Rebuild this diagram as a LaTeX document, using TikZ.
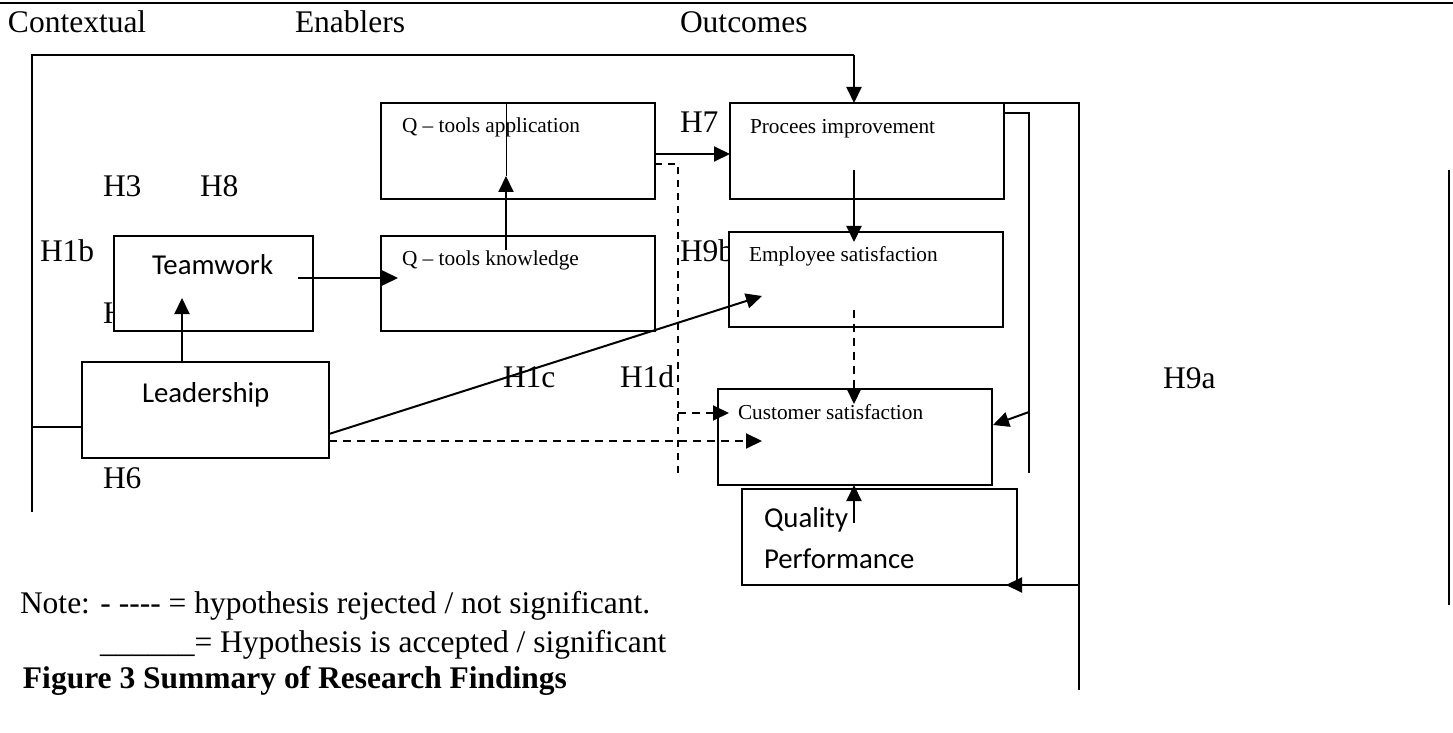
\documentclass[tikz,border=0pt]{standalone}
\usepackage{fontspec}
\setmainfont{Liberation Serif}
\newfontfamily\calfont{Carlito}
\usetikzlibrary{arrows.meta,calc}
\begin{document}
\begin{tikzpicture}[x=0.5pt,y=-0.5pt,
 box/.style={draw,line width=0.8pt,fill=white,minimum height=48pt,inner sep=0pt,outer sep=0pt},
 lbl/.style={anchor=base west,inner sep=0pt,outer sep=0pt,font=\fontsize{15.75}{19}\selectfont},
 btxt/.style={anchor=base west,inner sep=0pt,outer sep=0pt,font=\fontsize{10.65}{13}\selectfont},
 ctxt/.style={anchor=base west,inner sep=0pt,outer sep=0pt,font=\calfont\fontsize{14.4}{17}\selectfont},
 conn/.style={line width=0.7pt},
 thinl/.style={line width=0.5pt},
 arr/.style={line width=1pt,-{Triangle[length=8pt,width=7.5pt]}},
 darr/.style={line width=1pt,dash pattern=on 4pt off 3pt,-{Triangle[length=8pt,width=7.5pt]}},
 dline/.style={line width=0.75pt,dash pattern=on 3.5pt off 3pt}]
\useasboundingbox (0,0) rectangle (1453,733);

% top rule
\coordinate (r1) at (0,3);
\coordinate (r2) at (1453,3);
\draw[line width=1.3pt] (r1) -- (r2);

% headings
\node[lbl] (hctx) at (8,33) {Contextual};
\node[lbl] (hen) at (295,33) {Enablers};
\node[lbl] (hout) at (680,33) {Outcomes};

% labels partly hidden by boxes
\node[lbl] (hx) at (103,323) {H};
\node[lbl] (h9b) at (680,262) {H9b};

% boxes
\node[box,minimum width=137pt] (qa) at (518,151) {};
\node[box,minimum width=137pt,minimum height=47.5pt] (qk) at (518,283.5) {};
\node[box,minimum width=137pt] (pi) at (867,151) {};
\node[box,minimum width=137pt,minimum height=47.5pt] (es) at (866,279.5) {};
\node[box,minimum width=137pt] (cs) at (855,437) {};
\node[box,minimum width=137.5pt] (qp) at (879.5,537) {};
\node[box,minimum width=99.5pt,minimum height=47.5pt] (tw) at (213.5,283.5) {};
\node[box,minimum width=123.5pt] (ld) at (205.5,410) {};

% box texts
\node[btxt] (tqa) at (402,133) {Q \textendash{} tools application};
\node[btxt] (tqk) at (402,265) {Q \textendash{} tools knowledge};
\node[btxt] (tpi) at (750,134) {Procees improvement};
\node[btxt] (tes) at (749,262) {Employee satisfaction};
\node[btxt] (tcs) at (738,419) {Customer satisfaction};
\node[ctxt] (ttw) at (152,274) {Teamwork};
\node[ctxt] (tld) at (142,402) {Leadership};
\node[ctxt] (tqp1) at (764,527) {Quality};
\node[ctxt] (tqp2) at (764,568) {Performance};

% hypothesis labels
\node[lbl] (h3) at (103,197) {H3};
\node[lbl] (h8) at (200,197) {H8};
\node[lbl] (h1b) at (40,262) {H1b};
\node[lbl] (h6) at (103,488) {H6};
\node[lbl] (h1c) at (503,387) {H1c};
\node[lbl] (h1d) at (620,387) {H1d};
\node[lbl] (h7) at (680,133) {H7};
\node[lbl] (h9a) at (1163,388) {H9a};

% big left loop into process improvement
\coordinate (lb) at (32,512);
\coordinate (tl) at (32,55);
\coordinate (tr) at (854,55);
\draw[conn] (lb) -- (tl) -- (tr);
\draw[arr] (tr) -- (tr |- pi.north);
\draw[conn] ($(ld.west)+(0,17)$) -- ($(ld.west)+(-50,17)$);

% Q-tools application -> process improvement
\draw[arr] ($(qa.east)+(0,3)$) -- ($(pi.west)+(0,3)$);

% dashed from Q-tools application down
\coordinate (dv) at (678,477);
\coordinate (dj) at (678,413);
\draw[dline] ($(qa.east)+(0,13)$) -| (dv);
\draw[darr] (dj) -- ($(cs.west)+(11,-24)$);

% knowledge -> application
\draw[thinl] ($(qa.north)+(-12,0)$) -- ($(qa.south)+(-12,-23)$);
\draw[arr] ($(qk.north)+(-12,14)$) -- ($(qa.south)+(-12,-23)$);

% teamwork -> knowledge
\draw[arr] ($(tw.east)+(-15,-5.5)$) -- ($(qk.west)+(17,-5.5)$);

% leadership -> teamwork
\draw[arr] ($(ld.north)+(-23.5,0)$) -- ($(tw.south)+(-31.5,-33)$);

% leadership -> employee satisfaction
\draw[arr] ($(ld.east)+(0,24)$) -- ($(es.west)+(33,16.5)$);

% leadership -> customer satisfaction (dashed)
\draw[darr] ($(ld.east)+(0,31)$) -- ($(cs.west)+(44,4)$);

% process improvement -> employee satisfaction
\draw[arr] ($(pi.center)+(-13,19)$) -- ($(es.north)+(-12,10)$);

% employee -> customer (dashed)
\draw[darr] ($(es.south)+(-12,-17)$) -- ($(cs.north)+(-1,15)$);

% quality performance -> customer
\draw[arr] ($(qp.north)+(-25.5,34)$) -- ($(cs.south)+(-1,0)$);

% outer right loop
\coordinate (orT) at (1079,103);
\coordinate (orB) at (1079,690);
\coordinate (orQ) at (1079,585);
\draw[conn] (pi.north east) -- (orT) -- (orB);
\draw[arr] (orQ) -- ($(qp.south east)+(-11,0)$);

% inner right loop
\coordinate (irT) at (1029,113);
\coordinate (irB) at (1029,473);
\coordinate (irA) at (1029,412);
\draw[conn] ($(pi.north east)+(0,10)$) -- (irT) -- (irB);
\draw[arr] (irA) -- ($(cs.east)+(1,-12)$);

% far right line
\coordinate (fr1) at (1449,170);
\coordinate (fr2) at (1449,605);
\draw[conn] (fr1) -- (fr2);

% note and caption
\node[lbl] (n1) at (20,613) {Note: - -\kern0pt-\kern0pt-\kern0pt- = hypothesis rejected / not significant.};
\node[lbl] (n2) at (100,652) {\_\_\_\_\_\_= Hypothesis is accepted / significant};
\node[lbl,font=\fontsize{15.75}{19}\selectfont\bfseries] (cap) at (23,688) {Figure 3 Summary of Research Findings};
\end{tikzpicture}
\end{document}
